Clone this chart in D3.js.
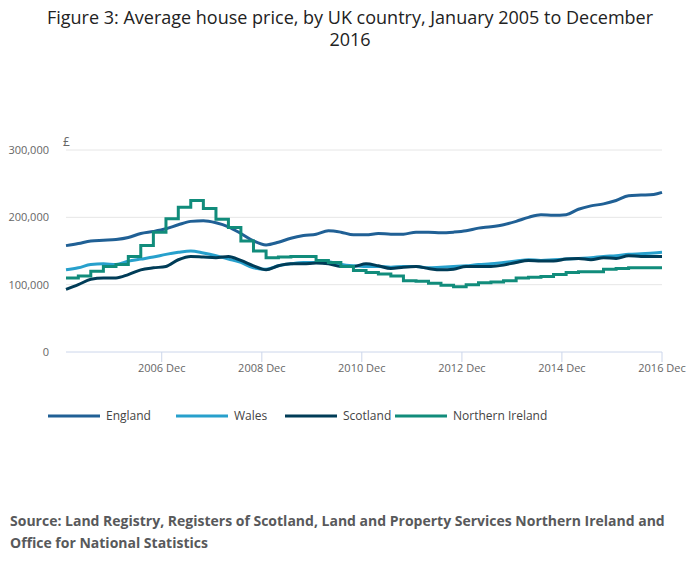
<!DOCTYPE html>
<html><head><meta charset="utf-8">
<script src="https://cdn.jsdelivr.net/npm/d3@7"></script>
<style>body{margin:0;background:#fff;font-family:"Open Sans",sans-serif;}</style>
</head><body><svg id="chart" width="700" height="574"></svg>
<script>
// quarterly readings, Jan 2005 .. Oct 2016, then Dec 2016 (thousands of £)
const months = d3.range(0, 144, 3).concat([143]);
const england = [158,161,165,166, 167,170,176,179, 183,189,194,195, 192,186,176,165, 159,163,169,173, 175,180,178,174, 174,176,175,175, 178,178,177,178, 180,184,186,189, 194,200,204,203, 204,212,217,220, 225,232,233,234, 237];
const wales = [122,125,130,131, 130,135,138,141, 145,148,150,147, 143,138,133,125, 123,128,131,133, 133,134,130,128, 127,127,126,127, 127,125,126,127, 128,130,131,133, 135,137,136,137, 138,139,140,142, 143,145,146,147, 148];
const scotland = [93,100,108,110, 110,115,122,125, 127,137,142,141, 140,142,136,128, 122,128,131,131, 132,131,127,127, 131,128,124,126, 127,124,122,123, 127,127,127,129, 133,136,135,135, 138,139,137,140, 139,143,142,142, 142];
const nireland = [110,113,120,127, 130,142,158,178, 198,215,225,213, 197,185,165,150, 140,141,142,142, 136,133,127,121, 118,116,113,106, 105,102,99,97, 100,103,104,106, 110,111,112,115, 118,119,119,123, 124,125,125,125, 125];
const seriesNames = ["England", "Wales", "Scotland", "Northern Ireland"];
const colors = ["#206095", "#27a0cc", "#003c57", "#118c7b"];
const yTicks = [0, 100000, 200000, 300000];
const xTickYears = [2006, 2008, 2010, 2012, 2014, 2016];

const svg = d3.select("#chart");
const x = d3.scaleTime().domain([new Date(2005,0,1), new Date(2016,11,1)]).range([66, 662]);
const y = d3.scaleLinear().domain([0, 300000]).range([352, 150]);

svg.append("text").attr("x", 350).attr("y", 24).attr("text-anchor", "middle")
  .attr("font-size", 18).attr("fill", "#222").text("Figure 3: Average house price, by UK country, January 2005 to December");
svg.append("text").attr("x", 350).attr("y", 46).attr("text-anchor", "middle")
  .attr("font-size", 18).attr("fill", "#222").text("2016");

// gridlines
yTicks.forEach(t => {
  svg.append("line").attr("x1", 66).attr("x2", 662).attr("y1", y(t)).attr("y2", y(t))
    .attr("stroke", t === 0 ? "#ccd6eb" : "#e6e6e6");
  svg.append("text").attr("x", 49).attr("y", y(t) + 4).attr("text-anchor", "end")
    .attr("font-size", 11).attr("fill", "#666").text(d3.format(",")(t));
});
svg.append("text").attr("x", 63).attr("y", 146).attr("font-size", 12).attr("fill", "#666").text("£");

xTickYears.forEach(yr => {
  const xp = x(new Date(yr, 11, 1));
  svg.append("line").attr("x1", xp).attr("x2", xp).attr("y1", 352).attr("y2", 362).attr("stroke", "#ccd6eb");
  svg.append("text").attr("x", xp).attr("y", 372).attr("text-anchor", "middle")
    .attr("font-size", 11).attr("fill", "#666").text(yr + " Dec");
});

const allSeries = [england, wales, scotland, nireland];
allSeries.forEach((vals, i) => {
  const pts = vals.map((v, j) => [x(new Date(2005, months[j], 1)), y(v * 1000)]);
  const line = d3.line().curve(i === 3 ? d3.curveStepAfter : d3.curveMonotoneX);
  svg.append("path").attr("d", line(pts)).attr("fill", "none")
    .attr("stroke", colors[i]).attr("stroke-width", 3);
});

// legend
const legendX = [48, 176, 285, 395];
seriesNames.forEach((n, i) => {
  svg.append("line").attr("x1", legendX[i]).attr("x2", legendX[i] + 52).attr("y1", 416).attr("y2", 416)
    .attr("stroke", colors[i]).attr("stroke-width", 3);
  svg.append("text").attr("x", legendX[i] + 58).attr("y", 420).attr("font-size", 12)
    .attr("fill", "#444").text(n);
});

svg.append("text").attr("x", 10).attr("y", 526).attr("font-size", 14).attr("font-weight", "bold")
  .attr("fill", "#58595b").text("Source: Land Registry, Registers of Scotland, Land and Property Services Northern Ireland and");
svg.append("text").attr("x", 10).attr("y", 548).attr("font-size", 14).attr("font-weight", "bold")
  .attr("fill", "#58595b").text("Office for National Statistics");
</script></body></html>
